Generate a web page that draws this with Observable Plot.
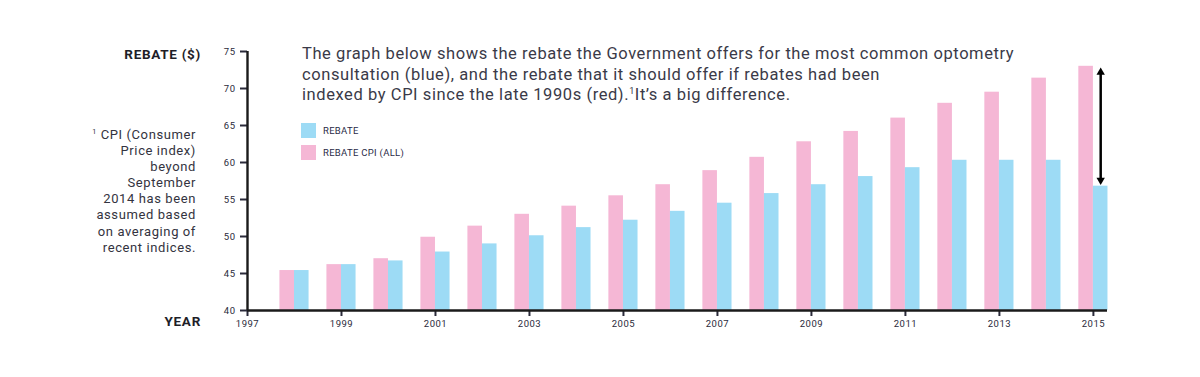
<!DOCTYPE html>
<html>
<head>
<meta charset="utf-8">
<script src="https://cdn.jsdelivr.net/npm/d3@7"></script>
<script src="https://cdn.jsdelivr.net/npm/@observablehq/plot@0.6"></script>
<style>
  html, body { margin: 0; padding: 0; background: #fff; }
  #wrap { position: relative; width: 1200px; height: 377px; overflow: hidden; font-family: Roboto, "Noto Sans", sans-serif; color: #333340; }
  #chart { position: absolute; left: 0; top: 0; }
  #chart text { letter-spacing: 0.5px; }
  .lbl { position: absolute; font-weight: 700; font-size: 13.5px; letter-spacing: 0.7px; color: #1e1e28; text-align: right; white-space: nowrap; }
  #note { position: absolute; right: 1004px; top: 127px; font-size: 13px; letter-spacing: 0.6px; line-height: 16.1px; text-align: right; color: #333340; white-space: nowrap; }
  #para { position: absolute; left: 302px; top: 44px; font-size: 16.5px; letter-spacing: 0.58px; line-height: 20.5px; color: #3a3a48; white-space: nowrap; }
  #para sup, #note sup { font-size: 0.55em; vertical-align: 0.7em; line-height: 0; }
  #legend { position: absolute; left: 301px; top: 123px; font-size: 9.5px; letter-spacing: 0.3px; color: #2a2a48; }
  .li { display: flex; align-items: center; height: 15px; margin-bottom: 7px; }
  .sw { width: 15px; height: 15px; margin-right: 7px; }
</style>
</head>
<body>
<div id="wrap">
  <div id="chart"></div>
  <div class="lbl" style="right:999px; top:46px;">REBATE ($)</div>
  <div class="lbl" style="right:999px; top:313px;">YEAR</div>
  <div id="note"><sup>1</sup> CPI (Consumer<br>Price index)<br>beyond<br>September<br>2014 has been<br>assumed based<br>on averaging of<br>recent indices.</div>
  <div id="para">The graph below shows the rebate the Government offers for the most common optometry<br>consultation (blue), and the rebate that it should offer if rebates had been<br>indexed by CPI since the late 1990s (red).<sup>1</sup>It’s a big difference.</div>
  <div id="legend"></div>
</div>
<script>
const years = [1998, 1999, 2000, 2001, 2002, 2003, 2004, 2005, 2006, 2007, 2008, 2009, 2010, 2011, 2012, 2013, 2014, 2015];
const rebate = [45.4, 46.2, 46.7, 47.9, 49.0, 50.1, 51.2, 52.2, 53.4, 54.5, 55.8, 57.0, 58.1, 59.3, 60.3, 60.3, 60.3, 56.8];
const rebateCPI = [45.4, 46.2, 47.0, 49.9, 51.4, 53.0, 54.1, 55.5, 57.0, 58.9, 60.7, 62.8, 64.2, 66.0, 68.0, 69.5, 71.4, 73.0];
const seriesNames = ["REBATE", "REBATE CPI (ALL)"];
const seriesColors = ["#9ddbf5", "#f5b7d5"];
const yTicks = [40, 45, 50, 55, 60, 65, 70, 75];
const xTicks = [1997, 1999, 2001, 2003, 2005, 2007, 2009, 2011, 2013, 2015];

const barW = 0.31;
const baseY = 40;
const rows = years.map((y, i) => ({year: y, rebate: rebate[i], cpi: rebateCPI[i]}));
const last = rows[rows.length - 1];
const arrowData = [{x: last.year + barW / 2, lo: last.rebate, hi: last.cpi}];

const chart = Plot.plot({
  width: 1200,
  height: 377,
  marginLeft: 247,
  marginRight: 93,
  marginTop: 51,
  marginBottom: 67,
  style: {fontFamily: "Roboto, 'Noto Sans', sans-serif", color: "#2a2a3a", background: "transparent"},
  x: {domain: [1997, 2015.3], axis: null, label: null},
  y: {domain: [40, 75], axis: null, label: null},
  marks: [
    Plot.rect(rows, {x1: d => d.year - barW, x2: d => d.year, y1: () => baseY, y2: d => d.cpi, fill: seriesColors[1]}),
    Plot.rect(rows, {x1: d => d.year, x2: d => d.year + barW, y1: () => baseY, y2: d => d.rebate, fill: seriesColors[0]}),
    Plot.axisY({ticks: yTicks, label: null, tickSize: 7, tickPadding: 5, fontSize: 9.5, strokeWidth: 2, tickFormat: d => String(d)}),
    Plot.axisX({ticks: xTicks, label: null, tickSize: 6, tickPadding: 4, fontSize: 9.5, strokeWidth: 2, tickFormat: d => String(d)}),
    Plot.ruleX([1997], {stroke: "#1a1a1a", strokeWidth: 2.4}),
    Plot.ruleY([40], {stroke: "#1a1a1a", strokeWidth: 2.4}),
    Plot.link(arrowData, {x1: "x", x2: "x", y1: d => d.lo + 0.8, y2: d => d.hi - 0.8, stroke: "#000", strokeWidth: 2.5}),
    Plot.dot(arrowData, {x: "x", y: d => d.hi - 0.8, symbol: "triangle2", r: 4, fill: "#000", stroke: "none"}),
    Plot.dot(arrowData, {x: "x", y: d => d.lo + 0.8, symbol: "triangle2", r: 4, fill: "#000", stroke: "none", rotate: 180})
  ]
});
document.getElementById("chart").appendChild(chart);

const legend = document.getElementById("legend");
seriesNames.forEach((n, i) => {
  const li = document.createElement("div");
  li.className = "li";
  li.innerHTML = `<div class="sw" style="background:${seriesColors[i]}"></div><span>${n}</span>`;
  legend.appendChild(li);
});
</script>
</body>
</html>
